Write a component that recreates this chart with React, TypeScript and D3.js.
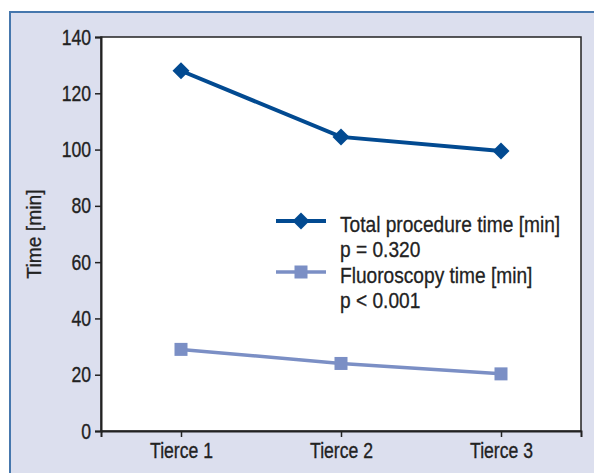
import React, { useEffect, useRef } from "react";
import * as d3 from "d3";

const categories = ["Tierce 1", "Tierce 2", "Tierce 3"];
const totalTime = [128, 104.5, 99.5];
const fluoroTime = [29, 24, 20.3];
const yTicks = [0, 20, 40, 60, 80, 100, 120, 140];
const legendLabels = [
  ["Total procedure time [min]", "p = 0.320"],
  ["Fluoroscopy time [min]", "p < 0.001"],
];

// condensed look: Arial-metric font squeezed horizontally
const FONT = "'Liberation Sans', Arial, sans-serif";
const INK = "#222";

const App: React.FC = () => {
  const svgRef = useRef<SVGSVGElement>(null);

  useEffect(() => {
    const width = 594;
    const height = 473;
    const margin = { left: 101, right: 13, top: 37, bottom: 42 };

    const svg = d3.select(svgRef.current).attr("width", width).attr("height", height);
    svg.selectAll("*").remove();

    // panel background
    svg.append("rect").attr("x", 9).attr("y", 11).attr("width", width).attr("height", height)
      .attr("fill", "#dcdfee");
    svg.append("line").attr("x1", 9).attr("x2", width).attr("y1", 12).attr("y2", 12)
      .attr("stroke", "#4677ad").attr("stroke-width", 2);
    svg.append("line").attr("x1", 10).attr("x2", 10).attr("y1", 11).attr("y2", height)
      .attr("stroke", "#4677ad").attr("stroke-width", 2);

    const x = d3.scalePoint<string>().domain(categories)
      .range([margin.left, width - margin.right]).padding(0.5);
    const y = d3.scaleLinear().domain([0, 140]).range([height - margin.bottom, margin.top]);

    // plot area
    svg.append("rect")
      .attr("x", margin.left).attr("y", margin.top)
      .attr("width", width - margin.left - margin.right)
      .attr("height", height - margin.top - margin.bottom)
      .attr("fill", "#fff").attr("stroke", INK).attr("stroke-width", 1.5);

    const yAxis = svg.append("g").attr("transform", `translate(${margin.left},0)`)
      .call(d3.axisLeft(y).tickValues(yTicks).tickSize(6).tickPadding(4));
    const xAxis = svg.append("g").attr("transform", `translate(0,${height - margin.bottom})`)
      .call(d3.axisBottom(x).tickSize(6).tickPadding(5));
    [yAxis, xAxis].forEach(a => {
      a.select(".domain").attr("stroke", INK).attr("stroke-width", 2);
      a.selectAll(".tick line").attr("stroke", INK).attr("stroke-width", 1.5);
      a.selectAll("text").attr("font-family", FONT).attr("font-size", 22).attr("fill", INK)
        .attr("stroke", INK).attr("stroke-width", 0.35)
        .attr("transform", "scale(0.8,1)");
    });
    yAxis.selectAll("text").attr("x", -12.5);

    svg.append("text")
      .attr("transform", `translate(41,${(margin.top + height - margin.bottom) / 2}) rotate(-90) scale(0.92,1)`)
      .attr("text-anchor", "middle")
      .attr("font-family", FONT).attr("font-size", 21).attr("fill", INK)
      .attr("stroke", INK).attr("stroke-width", 0.3)
      .text("Time [min]");

    const line = d3.line<number>().x((_, i) => x(categories[i])!).y(d => y(d));

    const series = [
      { values: totalTime, color: "#024a91", width: 4, shape: "diamond" },
      { values: fluoroTime, color: "#7b8fc5", width: 3.5, shape: "square" },
    ];

    const drawMarker = (g: d3.Selection<SVGGElement, unknown, null, undefined>, cx: number, cy: number, shape: string, color: string) => {
      if (shape === "diamond") {
        g.append("path").attr("d", `M${cx},${cy - 8.5}L${cx + 8.5},${cy}L${cx},${cy + 8.5}L${cx - 8.5},${cy}Z`)
          .attr("fill", color);
      } else {
        g.append("rect").attr("x", cx - 6.5).attr("y", cy - 6.5).attr("width", 13).attr("height", 13)
          .attr("fill", color);
      }
    };

    series.forEach(s => {
      const g = svg.append("g");
      g.append("path").datum(s.values).attr("d", line).attr("fill", "none")
        .attr("stroke", s.color).attr("stroke-width", s.width);
      s.values.forEach((v, i) => drawMarker(g, x(categories[i])!, y(v), s.shape, s.color));
    });

    // legend
    const legend = svg.append("g");
    series.forEach((s, i) => {
      const ly = 221 + i * 51;
      legend.append("line").attr("x1", 276).attr("x2", 326).attr("y1", ly).attr("y2", ly)
        .attr("stroke", s.color).attr("stroke-width", s.width);
      drawMarker(legend, 301, ly, s.shape, s.color);
      legendLabels[i].forEach((t, j) => {
        legend.append("text")
          .attr("transform", `translate(340,${ly + 10.5 + j * 25.5}) scale(0.87,1)`)
          .attr("font-family", FONT).attr("font-size", 22).attr("fill", INK)
          .attr("stroke", INK).attr("stroke-width", 0.3).text(t);
      });
    });
  }, []);

  return (
    <div style={{ position: "absolute", left: 0, top: 0 }}>
      <svg ref={svgRef} style={{ display: "block" }}></svg>
    </div>
  );
};

export default App;
